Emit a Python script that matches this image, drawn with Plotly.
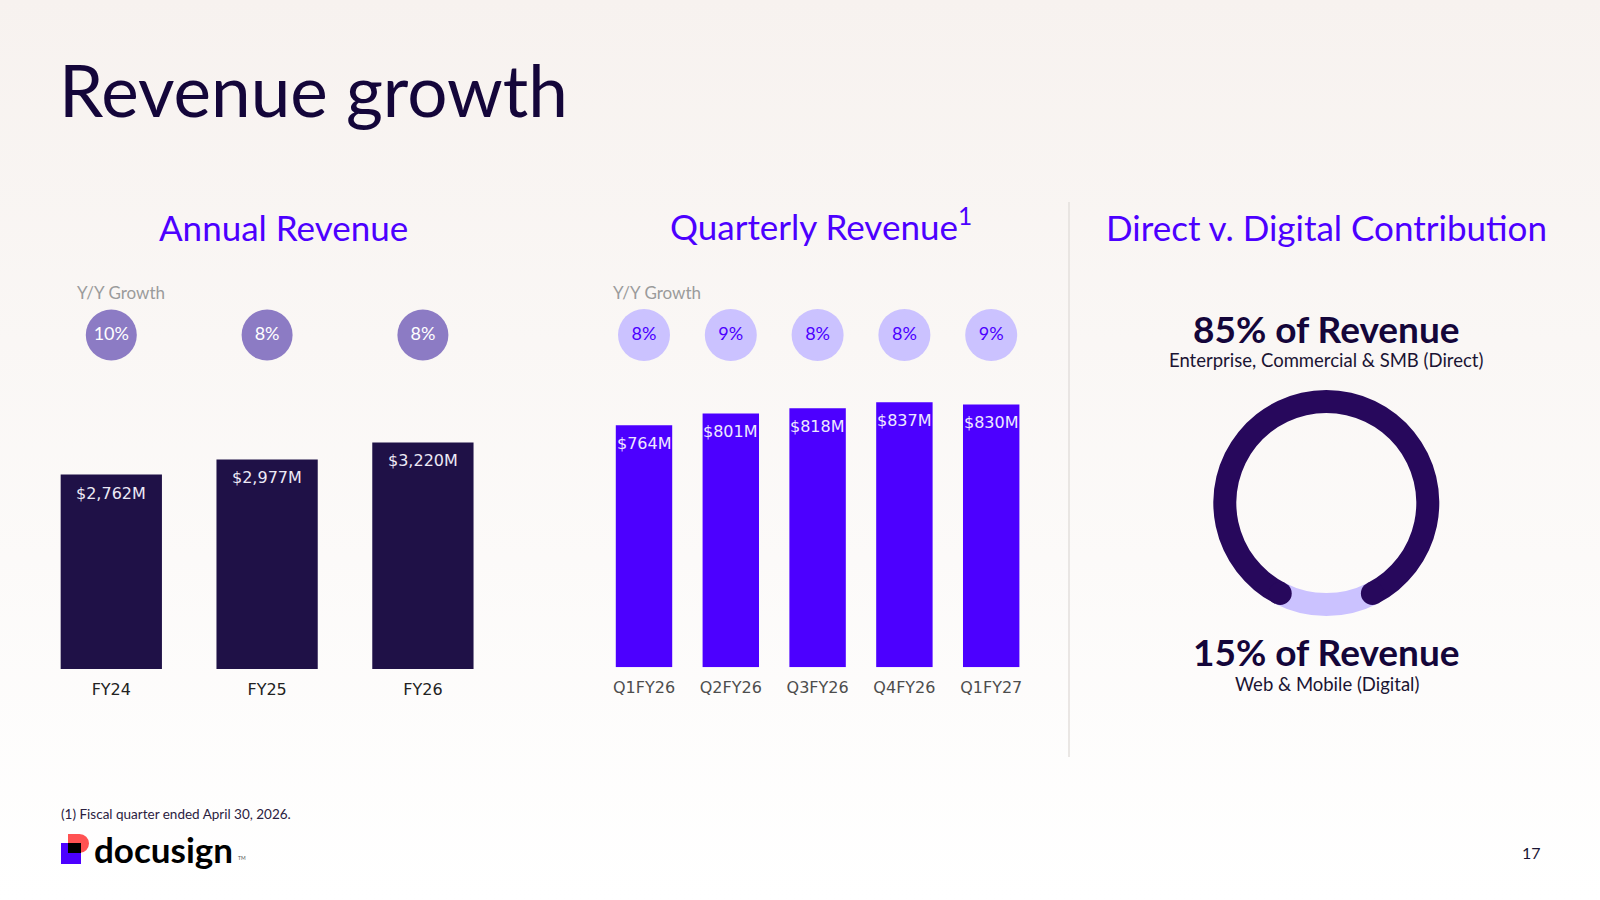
import base64
import math
import plotly.graph_objects as go

W, H = 1600, 900

# ---------------- data ----------------
annual_periods = ["FY24", "FY25", "FY26"]
annual_revenue = [2762, 2977, 3220]          # $M
annual_growth = [10, 8, 8]                   # Y/Y %

quarter_periods = ["Q1FY26", "Q2FY26", "Q3FY26", "Q4FY26", "Q1FY27"]
quarter_revenue = [764, 801, 818, 837, 830]  # $M
quarter_growth = [8, 9, 8, 8, 9]             # Y/Y %

mix_labels = ["Direct", "Digital"]
mix_share = [85, 15]                         # % of revenue
mix_desc = ["Enterprise, Commercial & SMB (Direct)", "Web & Mobile (Digital)"]

# ---------------- style ----------------
FONT = "Lato"
NUM_FONT = "DejaVu Sans"
NAVY = "#14063A"
COBALT = "#4C00FF"
BAR_DARK = "#1F1147"
RING_DARK = "#27085C"
LAVENDER = "#CBC2FF"
GROWTH_ANNUAL = "#8C7BC4"


def px(x):
    return x / W


def py(y):
    return 1 - y / H


fig = go.Figure()

# annual bars
fig.add_trace(go.Bar(
    x=annual_periods, y=annual_revenue, xaxis="x", yaxis="y",
    marker=dict(color=BAR_DARK, line=dict(width=0)),
    hoverinfo="skip", showlegend=False))

# quarterly bars
fig.add_trace(go.Bar(
    x=quarter_periods, y=quarter_revenue, xaxis="x2", yaxis="y2",
    marker=dict(color=COBALT, line=dict(width=0)),
    hoverinfo="skip", showlegend=False))

# growth bubbles
fig.add_trace(go.Scatter(
    x=annual_periods, y=[0.5] * len(annual_periods), xaxis="x3", yaxis="y3",
    mode="markers+text", text=[f"{g}%" for g in annual_growth],
    textposition="middle center",
    textfont=dict(family=FONT, size=18, color="white"),
    marker=dict(size=51, color=GROWTH_ANNUAL, line=dict(width=0)),
    hoverinfo="skip", showlegend=False, cliponaxis=False))

fig.add_trace(go.Scatter(
    x=quarter_periods, y=[0.5] * len(quarter_periods), xaxis="x4", yaxis="y4",
    mode="markers+text", text=[f"{g}%" for g in quarter_growth],
    textposition="middle center",
    textfont=dict(family=FONT, size=18, color=COBALT),
    marker=dict(size=52, color=LAVENDER, line=dict(width=0)),
    hoverinfo="skip", showlegend=False, cliponaxis=False))

# donut
cx, cy, r_out, r_in = 1326.3, 503.0, 113.0, 90.0
total = sum(mix_share)
rotation = 180 - (mix_share[0] + mix_share[1] / 2) / total * 360
fig.add_trace(go.Pie(
    labels=mix_labels, values=mix_share, hole=r_in / r_out,
    sort=False, direction="clockwise", rotation=rotation,
    marker=dict(colors=[RING_DARK, LAVENDER], line=dict(width=0)),
    textinfo="none", hoverinfo="skip", showlegend=False,
    domain=dict(x=[px(cx - r_out), px(cx + r_out)], y=[py(cy + r_out), py(cy - r_out)])))

shapes = []
# round caps at both ends of the "Direct" arc
r_mid = (r_out + r_in) / 2
cap_r = (r_out - r_in) / 2
for ang in (rotation, rotation + mix_share[0] / total * 360):
    a = math.radians(ang)
    ex, ey = cx + r_mid * math.sin(a), cy - r_mid * math.cos(a)
    shapes.append(dict(type="circle", xref="paper", yref="paper", layer="above",
                       x0=px(ex - cap_r), x1=px(ex + cap_r),
                       y0=py(ey + cap_r), y1=py(ey - cap_r),
                       fillcolor=RING_DARK, line=dict(width=0)))

# divider
shapes.append(dict(type="line", xref="paper", yref="paper",
                   x0=px(1069), x1=px(1069), y0=py(202), y1=py(757),
                   line=dict(color="#E3DFDD", width=1.5)))

# logo mark
def rect(x0, y0, x1, y1, color):
    return dict(type="rect", xref="paper", yref="paper", layer="above",
                x0=px(x0), x1=px(x1), y0=py(y1), y1=py(y0),
                fillcolor=color, line=dict(width=0))

shapes.append(rect(61, 843, 81, 864, COBALT))
shapes.append(rect(68, 834, 79.5, 853, "#FF5252"))
shapes.append(dict(type="circle", xref="paper", yref="paper", layer="above",
                   x0=px(70), x1=px(89), y0=py(853), y1=py(834),
                   fillcolor="#FF5252", line=dict(width=0)))
shapes.append(rect(68, 843, 81, 853, "#000000"))

# ---------------- annotations ----------------
ann = []


def text(x, y, s, size, color, anchor="center", family=FONT, weight=None):
    f = dict(family=family, size=size, color=color)
    if weight:
        f["weight"] = weight
    ann.append(dict(x=px(x), y=py(y), xref="paper", yref="paper", text=s,
                    showarrow=False, xanchor=anchor, yanchor="middle", font=f))


text(57, 90, "Revenue growth", 71, NAVY, anchor="left")
text(283.5, 227, "Annual Revenue", 35, COBALT)
text(820.5, 224, "Quarterly Revenue<sup>1</sup>", 35, COBALT)
text(1326.5, 227, "Direct v. Digital Contribution", 35, COBALT)
text(75, 292, "Y/Y Growth", 17, "#9B9B9B", anchor="left")
text(611, 292, "Y/Y Growth", 17, "#9B9B9B", anchor="left")

text(1326, 328, f"{mix_share[0]}% of Revenue", 37, NAVY, weight=700)
text(1326, 360, mix_desc[0], 18.5, "#1A1433")
text(1326, 651, f"{mix_share[1]}% of Revenue", 37, NAVY, weight=700)
text(1326.5, 684, mix_desc[1], 18.5, "#1A1433")

text(59, 814, "(1) Fiscal quarter ended April 30, 2026.", 13.5, "#2A2140", anchor="left")
text(92, 849, "docusign", 35, "#000000", anchor="left", weight=700)
text(236, 858, "TM", 5, "#555555", anchor="left")
text(1531.5, 852, "17", 16, "#1A1433")

# value labels inside bars
for cat, v in zip(annual_periods, annual_revenue):
    ann.append(dict(x=cat, y=v, xref="x", yref="y", text=f"${v:,}M", showarrow=False,
                    yanchor="middle", yshift=-18.5,
                    font=dict(family=NUM_FONT, size=16, color="#ECE9F5")))
for cat, v in zip(quarter_periods, quarter_revenue):
    ann.append(dict(x=cat, y=v, xref="x2", yref="y2", text=f"${v:,}M", showarrow=False,
                    yanchor="middle", yshift=-18,
                    font=dict(family=NUM_FONT, size=16, color="#EEE8FF")))

# ---------------- background gradient ----------------
svg = ('<svg xmlns="http://www.w3.org/2000/svg" width="1600" height="900">'
       '<defs><linearGradient id="g" x1="0" y1="0" x2="0" y2="1">'
       '<stop offset="0" stop-color="#F7F2EF"/><stop offset="1" stop-color="#FFFFFF"/>'
       '</linearGradient></defs><rect width="1600" height="900" fill="url(#g)"/></svg>')
bg_src = "data:image/svg+xml;base64," + base64.b64encode(svg.encode()).decode()

hidden = dict(visible=False, showgrid=False, zeroline=False, fixedrange=True)

fig.update_layout(
    width=W, height=H, margin=dict(l=0, r=0, t=0, b=0),
    paper_bgcolor="#FBF9F8", plot_bgcolor="rgba(0,0,0,0)",
    bargap=0.35, showlegend=False,
    images=[dict(source=bg_src, xref="paper", yref="paper", x=0, y=1,
                 sizex=1, sizey=1, xanchor="left", yanchor="top",
                 sizing="stretch", layer="below")],
    xaxis=dict(domain=[px(33.4), px(500.8)], type="category", range=[-0.5, 2.5],
               showgrid=False, zeroline=False, showline=False, ticks="",
               tickfont=dict(family=NUM_FONT, size=16, color="#222222"),
               ticklabelstandoff=9, anchor="y", fixedrange=True),
    yaxis=dict(domain=[py(669), py(420)], range=[0, 3538], anchor="x", **hidden),
    xaxis2=dict(domain=[px(600.6), px(1034.6)], type="category", range=[-0.5, 4.5],
                showgrid=False, zeroline=False, showline=False, ticks="",
                tickfont=dict(family=NUM_FONT, size=16, color="#4D4D4D"),
                ticklabelstandoff=9, anchor="y2", fixedrange=True),
    yaxis2=dict(domain=[py(667.3), py(390)], range=[0, 875.4], anchor="x2", **hidden),
    xaxis3=dict(domain=[px(33.4), px(500.8)], type="category", range=[-0.5, 2.5],
                anchor="y3", **hidden),
    yaxis3=dict(domain=[py(365), py(305)], range=[0, 1], anchor="x3", **hidden),
    xaxis4=dict(domain=[px(600.6), px(1034.6)], type="category", range=[-0.5, 4.5],
                anchor="y4", **hidden),
    yaxis4=dict(domain=[py(365), py(305)], range=[0, 1], anchor="x4", **hidden),
    shapes=shapes, annotations=ann,
)

fig.write_html("out.html", config=dict(displayModeBar=False))
